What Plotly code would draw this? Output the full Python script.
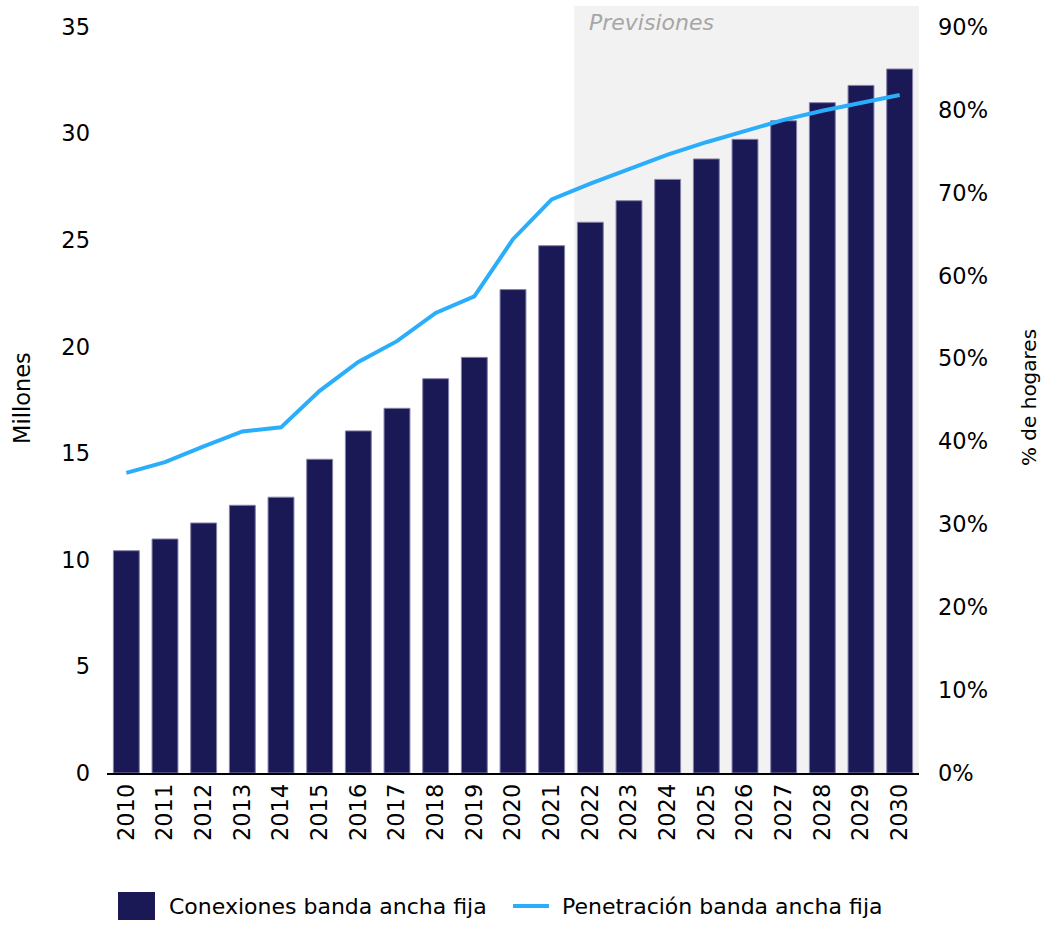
import plotly.graph_objects as go

years = [str(y) for y in range(2010, 2031)]
conexiones = [10.43, 10.98, 11.73, 12.56, 12.94, 14.72, 16.05, 17.11, 18.50, 19.50,
              22.68, 24.74, 25.84, 26.85, 27.85, 28.81, 29.73, 30.60, 31.45, 32.26, 33.03]
penetracion = [36.2, 37.5, 39.4, 41.2, 41.7, 46.1, 49.6, 52.1, 55.5, 57.5,
               64.4, 69.2, 71.1, 72.9, 74.6, 76.1, 77.5, 78.8, 79.9, 80.9, 81.8]
pen_frac = [v / 100 for v in penetracion]

left_ticks = [0, 5, 10, 15, 20, 25, 30, 35]
right_ticks = [i / 10 for i in range(10)]

FONT = "DejaVu Sans"
BAR = "#1b1856"
LINE = "#2aaefc"
TICK = 22.5

fig = go.Figure()
fig.add_trace(go.Bar(x=years, y=conexiones, name="Conexiones banda ancha fija",
                     marker=dict(color=BAR, line=dict(color="#8583a8", width=1)),
                     width=0.67, showlegend=False))
fig.add_trace(go.Scatter(x=years, y=pen_frac, name="Penetración banda ancha fija",
                         yaxis="y2", mode="lines", line=dict(color=LINE, width=4),
                         showlegend=False))

fig.add_shape(type="rect", xref="x", yref="paper", x0=11.58, x1=20.5, y0=-0.003, y1=1.028,
              fillcolor="#f2f2f2", line_width=0, layer="below")

fig.add_annotation(text="<i>Previsiones</i>", xref="paper", yref="paper", x=0.591, y=1.0054,
                   xanchor="left", yanchor="middle", showarrow=False,
                   font=dict(family=FONT, size=22, color="#a6a6a6"))

fig.add_annotation(text="Millones", xref="paper", yref="paper", x=-0.1047, y=0.5027,
                   xanchor="center", yanchor="middle", showarrow=False, textangle=-90,
                   font=dict(family=FONT, size=22.5, color="#000000"))
fig.add_annotation(text="% de hogares", xref="paper", yref="paper", x=1.1355, y=0.5027,
                   xanchor="center", yanchor="middle", showarrow=False, textangle=-90,
                   font=dict(family=FONT, size=20, color="#000000"))

# manual legend
fig.add_shape(type="rect", xref="paper", yref="paper", x0=0.01355, x1=0.0591,
              y0=-0.197, y1=-0.1595, fillcolor=BAR, line_width=0)
fig.add_annotation(text="Conexiones banda ancha fija", xref="paper", yref="paper",
                   x=0.0739, y=-0.1796, xanchor="left", yanchor="middle", showarrow=False,
                   font=dict(family=FONT, size=22, color="#000000"))
fig.add_shape(type="line", xref="paper", yref="paper", x0=0.5, x1=0.5443,
              y0=-0.1783, y1=-0.1783, line=dict(color=LINE, width=4))
fig.add_annotation(text="Penetración banda ancha fija", xref="paper", yref="paper",
                   x=0.5579, y=-0.1796, xanchor="left", yanchor="middle", showarrow=False,
                   font=dict(family=FONT, size=22, color="#000000"))

fig.update_layout(
    width=1045, height=925,
    margin=dict(l=107, r=126, t=27, b=152),
    paper_bgcolor="white", plot_bgcolor="rgba(0,0,0,0)",
    font=dict(family=FONT, size=21, color="#000000"),
    bargap=0.33,
    xaxis=dict(type="category", range=[-0.5, 20.5], tickangle=-90, showgrid=False,
               showline=True, linecolor="#000000", linewidth=1.5, ticks="",
               ticklabelstandoff=0, tickfont=dict(size=TICK)),
    yaxis=dict(range=[0, 35], tickvals=left_ticks, showgrid=False, zeroline=False,
               showline=False, ticks="", ticklabelstandoff=16, tickfont=dict(size=TICK)),
    yaxis2=dict(range=[0, 0.9], tickvals=right_ticks, tickformat=".0%", overlaying="y",
                side="right", showgrid=False, zeroline=False, showline=False, ticks="",
                ticklabelstandoff=18, tickfont=dict(size=TICK)),
)

fig.write_html("out.html")
